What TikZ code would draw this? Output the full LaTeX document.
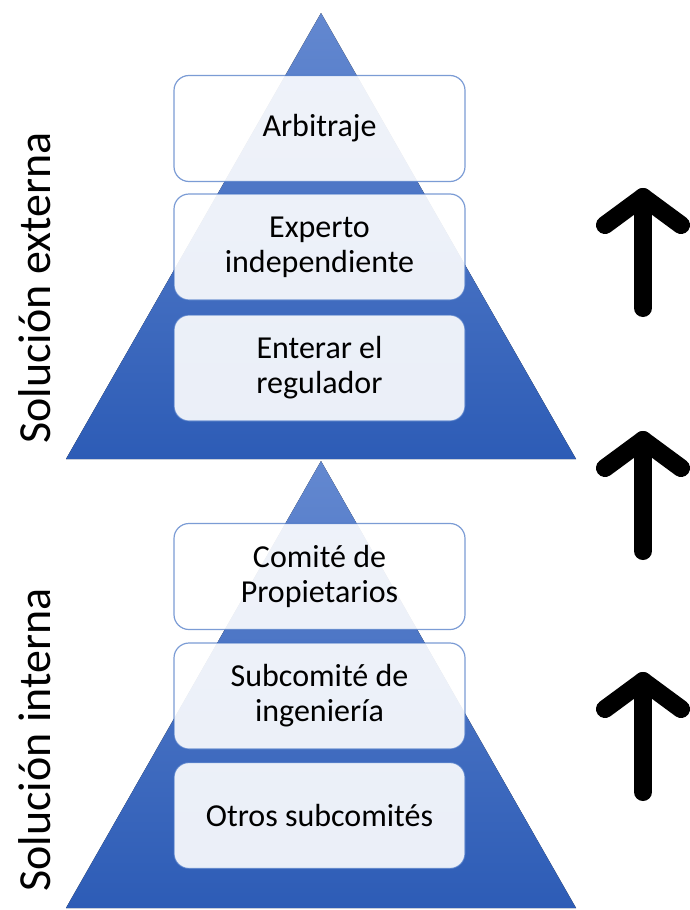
\documentclass[tikz,border=0pt]{standalone}
\usepackage{fontspec}
\setmainfont{Carlito}
\definecolor{pyrtop}{HTML}{6388D0}
\definecolor{pyrbot}{HTML}{2D5CB6}
\definecolor{accent}{HTML}{4472C4}
\tikzset{
  pyr/.style={top color=pyrtop, bottom color=pyrbot, draw=none},
  levelbox/.style={rounded corners=15pt, fill=white, fill opacity=0.9, text opacity=1,
    draw=accent, draw opacity=0.7, line width=1.2pt, minimum width=291pt, minimum height=106pt,
    inner sep=0pt, align=center, font=\fontsize{32}{35}\selectfont, text=black},
  sidelabel/.style={rotate=90, anchor=base, font=\fontsize{46}{50}\selectfont, text=black, inner sep=0pt},
  uparrow/.style={line width=18pt, line cap=round, line join=round, draw=black}
}
\begin{document}
\begin{tikzpicture}[x=1pt, y=-1pt]
\useasboundingbox[fill=white] (0,0) rectangle (690,910);
% pyramids
\fill[pyr] (321,13) -- (576,459) -- (66,459) -- cycle;
\fill[pyr] (321,461) -- (576,908) -- (66,908) -- cycle;
% top pyramid boxes
\node[levelbox] (arb) at (319.5,128.5) {Arbitraje};
\node[levelbox] (exp) at (319.5,247) {Experto\\independiente};
\node[levelbox] (reg) at (319.5,368) {Enterar el\\regulador};
% bottom pyramid boxes
\node[levelbox] (com) at (319.5,576.5) {Comité de\\Propietarios};
\node[levelbox] (sub) at (319.5,696) {Subcomité de\\ingeniería};
\node[levelbox] (otr) at (319.5,815.5) {Otros subcomités};
% side labels
\node[sidelabel] (ext) at (50,288) {Solución externa};
\node[sidelabel] (int) at (50,740) {Solución interna};
% arrows
\foreach \t/\n in {197/a1, 440/a2, 681/a3}{
  \coordinate (\n tip) at (643,\t);
  \coordinate (\n bot) at (643,\t+111);
  \coordinate (\n l) at (605,\t+28);
  \coordinate (\n r) at (681,\t+28);
  \draw[uparrow] (\n l) -- (\n tip) -- (\n r);
  \draw[uparrow] (\n tip) -- (\n bot);
}
\end{tikzpicture}
\end{document}
